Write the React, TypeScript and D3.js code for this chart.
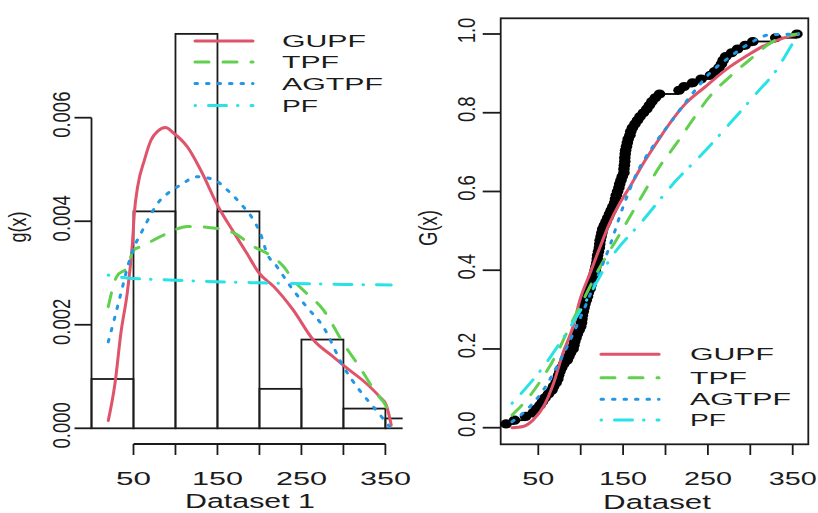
import React from "react";
import * as d3 from "d3";

// ---------- data ----------
const observations = [
  12, 22, 35, 44, 48,
  52, 55, 58, 62, 66, 68, 71, 73, 74, 75.5, 77.5, 80, 84, 86, 88, 91, 92, 93, 94.5, 96, 98, 100,
  101, 101.5, 102, 103, 104, 105, 106.5, 108, 109, 111, 112, 113, 114.5, 116, 117, 118, 119, 119.5, 120, 121,
  122, 122.5, 123, 124, 125, 126, 128, 130, 132, 134, 136, 138, 140, 141, 142, 143.5, 145, 146, 147.5, 149,
  151, 151, 151.5, 152, 152, 152.5, 153, 154, 155, 156, 158, 159, 161, 164, 167, 170, 174, 178, 181, 184, 188, 193,
  216, 222, 232, 242,
  253, 258, 263, 266, 268, 271, 278, 285, 294,
  303, 330,
  355,
];
const histBreaks = [0, 50, 100, 150, 200, 250, 300, 350, 400];

const pdfGUPFx = [20, 28, 35, 43, 49, 51, 55, 63, 71, 79, 88, 98, 114, 130, 151, 170, 185, 200, 217, 240, 264, 288, 302, 327, 343, 351, 357];
const pdfGUPFy = [0.00015, 0.00087, 0.00184, 0.00267, 0.00364, 0.00415, 0.00467, 0.00518, 0.00557, 0.00574, 0.00581, 0.0057, 0.00544, 0.00499, 0.00428, 0.00377, 0.00338, 0.00299, 0.00274, 0.00229, 0.00171, 0.00138, 0.00119, 0.00087, 0.00061, 0.00045, 0.00006];
const pdfTPFx = [20, 30, 43, 50, 59, 91, 114, 120, 150, 170, 193, 209, 229, 240, 256, 276, 300, 319, 339, 351, 357];
const pdfTPFy = [0.00235, 0.00293, 0.00312, 0.00344, 0.00351, 0.00377, 0.0039, 0.0039, 0.00386, 0.00377, 0.00351, 0.00338, 0.00312, 0.00287, 0.00261, 0.00229, 0.00164, 0.00119, 0.00068, 0.00042, 0.00016];
const pdfAGTPFx = [20, 28, 36, 43, 51, 59, 67, 79, 91, 106, 126, 146, 162, 177, 193, 201, 209, 221, 237, 256, 276, 300, 319, 339, 355];
const pdfAGTPFy = [0.00167, 0.00216, 0.00267, 0.00312, 0.00351, 0.00377, 0.00402, 0.00435, 0.00454, 0.0047, 0.00486, 0.0048, 0.0046, 0.00435, 0.00402, 0.00377, 0.00338, 0.00312, 0.00274, 0.00235, 0.00196, 0.00119, 0.00074, 0.00035, 0.00003];
const pdfPFx = [20, 40, 100, 200, 300, 357];
const pdfPFy = [0.00296, 0.00291, 0.00286, 0.00281, 0.00278, 0.00277];

const cdfGUPFx = [19, 32, 44, 56, 68, 79, 91, 99, 111, 123, 134, 146, 158, 174, 189, 205, 224, 247, 271, 294, 318, 338, 357];
const cdfGUPFy = [0.0, 0.003, 0.02, 0.053, 0.113, 0.189, 0.257, 0.324, 0.392, 0.46, 0.519, 0.57, 0.612, 0.672, 0.722, 0.773, 0.824, 0.866, 0.909, 0.942, 0.972, 0.989, 1.0];
const cdfTPFx = [19, 36, 56, 72, 87, 103, 123, 142, 158, 174, 193, 213, 232, 252, 276, 299, 323, 338, 357];
const cdfTPFy = [0.032, 0.07, 0.13, 0.189, 0.257, 0.324, 0.409, 0.477, 0.536, 0.595, 0.663, 0.722, 0.782, 0.841, 0.892, 0.934, 0.976, 0.993, 1.0];
const cdfAGTPFx = [19, 36, 56, 76, 95, 115, 134, 150, 166, 185, 205, 229, 252, 276, 299, 323, 357];
const cdfAGTPFy = [0.015, 0.045, 0.096, 0.172, 0.257, 0.358, 0.46, 0.561, 0.646, 0.714, 0.773, 0.841, 0.9, 0.942, 0.976, 0.998, 1.0];
const cdfPFx = [19, 56, 83, 107, 134, 174, 213, 244, 276, 307, 331, 346, 355];
const cdfPFy = [0.062, 0.155, 0.24, 0.324, 0.426, 0.528, 0.629, 0.697, 0.773, 0.849, 0.909, 0.962, 0.995];

const xTicks = [50, 100, 150, 200, 250, 300, 350];
const xTickLabels = ["50", "", "150", "", "250", "", "350"];
const yTicksL = [0, 0.002, 0.004, 0.006];
const yTickLabelsL = ["0.000", "0.002", "0.004", "0.006"];
const yTicksR = [0, 0.2, 0.4, 0.6, 0.8, 1.0];
const yTickLabelsR = ["0.0", "0.2", "0.4", "0.6", "0.8", "1.0"];
const legendNames = ["GUPF", "TPF", "AGTPF", "PF"];

// ---------- styles ----------
const COLORS = ["#DF536B", "#61D04F", "#2297E6", "#28E2E5"];
const DASH = [undefined, "14,14", "2.5,9", "0.5,13,18,11"];
const LEG_W = [84, 57, 101, 36];
const FONT = "'Liberation Sans', Arial, Helvetica, sans-serif";
const INK = "#1b1b1b";

// ---------- scales ----------
const xL = d3.scaleLinear().domain([0, 350]).range([91.5, 385.4]);
const yL = d3.scaleLinear().domain([0, 0.006]).range([428.3, 117.7]);
const xR = d3.scaleLinear().domain([50, 350]).range([538.3, 792.7]);
const yR = d3.scaleLinear().domain([0, 1]).range([427.7, 34]);

const zip = (xs: number[], ys: number[]) => xs.map((x, i) => [x, ys[i]] as [number, number]);

export default function App() {
  const n = observations.length;
  const sorted = [...observations].sort((a, b) => a - b);
  const counts = histBreaks.slice(0, -1).map((a, i) =>
    observations.filter((v) => v > a && v <= histBreaks[i + 1]).length
  );
  const dens = counts.map((c, i) => c / (n * (histBreaks[i + 1] - histBreaks[i])));

  const lineL = d3.line<[number, number]>().x((d) => xL(d[0])).y((d) => yL(d[1])).curve(d3.curveMonotoneX);
  const lineR = d3.line<[number, number]>().x((d) => xR(d[0])).y((d) => yR(d[1])).curve(d3.curveMonotoneX);

  const pdfs = [zip(pdfGUPFx, pdfGUPFy), zip(pdfTPFx, pdfTPFy), zip(pdfAGTPFx, pdfAGTPFy), zip(pdfPFx, pdfPFy)];
  const cdfs = [zip(cdfGUPFx, cdfGUPFy), zip(cdfTPFx, cdfTPFy), zip(cdfAGTPFx, cdfAGTPFy), zip(cdfPFx, cdfPFy)];
  const ecdf = sorted.map((v, i) => [v, (i + 1) / n] as [number, number]);

  const boxL = 500.7, boxR = 808.3, boxT = 18.3, boxB = 444.3;

  const curveStyle = (k: number) => ({
    fill: "none",
    stroke: COLORS[k],
    strokeWidth: 3,
    strokeDasharray: DASH[k],
    strokeLinecap: "round" as const,
    strokeLinejoin: "round" as const,
  });

  const legend = (x0: number, x1: number, tx: number, ys: number[]) =>
    legendNames.map((name, k) => (
      <g key={name}>
        <line x1={x0} x2={x1} y1={ys[k]} y2={ys[k]} style={curveStyle(k)} />
        <text x={tx} y={ys[k] + 6} fontSize={17} fontFamily={FONT} fill={INK}
          textLength={LEG_W[k]} lengthAdjust="spacingAndGlyphs">{name}</text>
      </g>
    ));

  return (
    <svg width={818} height={513} style={{ position: "absolute", left: 0, top: 0, background: "#fff" }}>
      <defs>
        <clipPath id="clipL">
          <rect x={0} y={0} width={xL(370.5)} height={513} />
        </clipPath>
      </defs>
      <rect x={0} y={0} width={818} height={513} fill="#fff" />

      {/* ===== left panel ===== */}
      <g clipPath="url(#clipL)">
        {counts.map((c, i) => (
          <rect key={i} x={xL(histBreaks[i])} y={yL(dens[i])}
            width={xL(histBreaks[i + 1]) - xL(histBreaks[i])} height={yL(0) - yL(dens[i])}
            fill="none" stroke={INK} strokeWidth={1.8} />
        ))}
      </g>
      {/* y axis left */}
      <line x1={xL(0)} x2={xL(0)} y1={yL(0)} y2={yL(0.006)} stroke={INK} strokeWidth={1.8} />
      {yTicksL.map((t, i) => (
        <g key={t}>
          <line x1={xL(0) - 17} x2={xL(0)} y1={yL(t)} y2={yL(t)} stroke={INK} strokeWidth={1.8} />
          <text transform={`translate(70,${yL(t) - 3}) rotate(-90) scale(1,1.25)`} textAnchor="middle"
            fontSize={18.5} fontFamily={FONT} fill={INK}>{yTickLabelsL[i]}</text>
        </g>
      ))}
      {/* x axis left */}
      <line x1={xL(50)} x2={xL(350)} y1={444} y2={444} stroke={INK} strokeWidth={1.8} />
      {xTicks.map((t, i) => (
        <g key={t}>
          <line x1={xL(t)} x2={xL(t)} y1={444} y2={455} stroke={INK} strokeWidth={1.8} />
          {xTickLabels[i] && (
            <text x={xL(t)} y={485} textAnchor="middle" fontSize={19} fontFamily={FONT} fill={INK}
              textLength={t === 50 ? 35 : 51} lengthAdjust="spacingAndGlyphs">{xTickLabels[i]}</text>
          )}
        </g>
      ))}
      <text x={250} y={508} textAnchor="middle" fontSize={20.5} fontFamily={FONT} fill={INK}
        textLength={130} lengthAdjust="spacingAndGlyphs">Dataset 1</text>
      <text transform="translate(26,227) rotate(-90) scale(1,1.25)" textAnchor="middle" fontSize={19.5}
        fontFamily={FONT} fill={INK} textLength={31} lengthAdjust="spacingAndGlyphs">g(x)</text>

      {pdfs.map((p, k) => (
        <path key={k} d={lineL(p) || ""} style={curveStyle(k)} />
      ))}
      {legend(195, 253, 282, [41, 62, 83.5, 105.5])}

      {/* ===== right panel ===== */}
      <rect x={boxL} y={boxT} width={boxR - boxL} height={boxB - boxT} fill="none" stroke={INK} strokeWidth={1.8} />
      {yTicksR.map((t, i) => (
        <g key={t}>
          <line x1={boxL - 18} x2={boxL} y1={yR(t)} y2={yR(t)} stroke={INK} strokeWidth={1.8} />
          <text transform={`translate(475,${yR(t) - 3.5}) rotate(-90) scale(1,1.25)`} textAnchor="middle"
            fontSize={18.5} fontFamily={FONT} fill={INK}>{yTickLabelsR[i]}</text>
        </g>
      ))}
      {xTicks.map((t, i) => (
        <g key={t}>
          <line x1={xR(t)} x2={xR(t)} y1={boxB} y2={455} stroke={INK} strokeWidth={1.8} />
          {xTickLabels[i] && (
            <text x={xR(t)} y={485} textAnchor="middle" fontSize={19} fontFamily={FONT} fill={INK}
              textLength={t === 50 ? 32 : 48} lengthAdjust="spacingAndGlyphs">{xTickLabels[i]}</text>
          )}
        </g>
      ))}
      <text x={657} y={509} textAnchor="middle" fontSize={20.5} fontFamily={FONT} fill={INK}
        textLength={108} lengthAdjust="spacingAndGlyphs">Dataset</text>
      <text transform="translate(437,228) rotate(-90) scale(1,1.25)" textAnchor="middle" fontSize={20}
        fontFamily={FONT} fill={INK} textLength={36} lengthAdjust="spacingAndGlyphs">G(x)</text>

      {/* ecdf */}
      {ecdf.slice(0, -1).map((d, i) => (
        <line key={"s" + i} x1={xR(d[0])} x2={xR(ecdf[i + 1][0])} y1={yR(d[1])} y2={yR(d[1])}
          stroke="#000" strokeWidth={1.8} />
      ))}
      {ecdf.map((d, i) => (
        <ellipse key={"p" + i} cx={xR(d[0])} cy={yR(d[1])} rx={5.8} ry={4.6} fill="#000" />
      ))}

      {cdfs.map((p, k) => (
        <path key={k} d={lineR(p) || ""} style={curveStyle(k)} />
      ))}
      {legend(601, 659, 690, [354.3, 377.7, 399.3, 420])}
    </svg>
  );
}
